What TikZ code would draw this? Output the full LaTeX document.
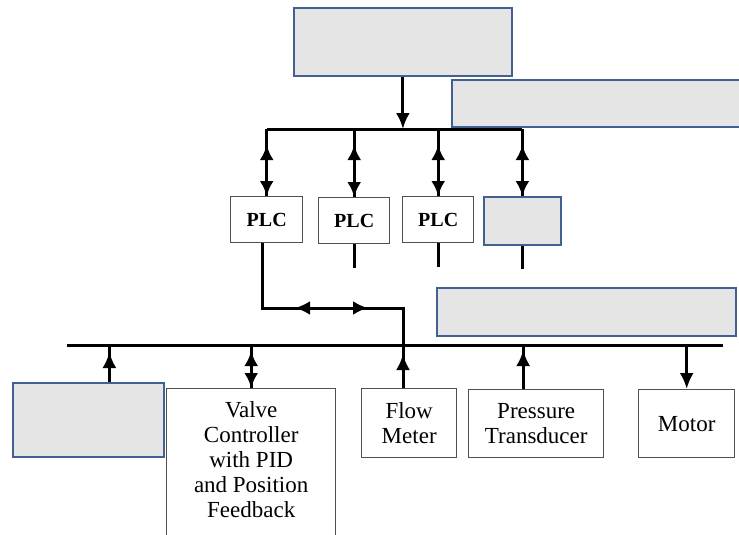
\documentclass[tikz,border=0pt]{standalone}
\usepackage{fontspec}
\setmainfont{Liberation Serif}
\usetikzlibrary{arrows.meta}

\definecolor{blankfill}{RGB}{229,229,229}
\definecolor{blankedge}{RGB}{66,96,148}
\definecolor{unitedge}{RGB}{80,80,80}

\tikzset{
  blank/.style={draw=blankedge, line width=1.8pt, fill=blankfill, inner sep=0pt, anchor=north west},
  unit/.style={draw=unitedge, line width=1.4pt, fill=white, inner sep=0pt, anchor=north west,
    align=center, font=\fontsize{23}{25}\selectfont},
  plc/.style={unit, font=\bfseries\fontsize{20}{22}\selectfont},
  wire/.style={line width=3pt},
  onetip/.style={wire, -{Latex[length=16pt,width=14pt]}},
  twotip/.style={wire, {Latex[length=15pt,width=14pt]}-{Latex[length=15pt,width=14pt]}},
}

\begin{document}
\begin{tikzpicture}[x=1pt, y=-1pt]
  \useasboundingbox (0,0) rectangle (739,535);

  % upper level
  \node[blank, minimum width=218pt, minimum height=68pt] (sup) at (293,7) {};
  \node[blank, minimum width=300pt, minimum height=47pt] (net) at (451,79) {};
  \node[plc, minimum width=72pt, minimum height=46pt] (p1) at (230,196) {PLC};
  \node[plc, minimum width=71pt, minimum height=46pt] (p2) at (318,197) {PLC};
  \node[plc, minimum width=71pt, minimum height=46pt] (p3) at (402,196) {PLC};
  \node[blank, minimum width=77pt, minimum height=48pt] (gw) at (483,196) {};
  \coordinate (tl) at (266,129);

  % field level
  \node[blank, minimum width=299pt, minimum height=48pt] (field) at (436,287) {};
  \node[blank, minimum width=151pt, minimum height=74pt] (dev) at (12,382) {};
  \node[unit, minimum width=169pt, minimum height=160pt] (valve) at (166,388)
    {Valve\\Controller\\with PID\\and Position\\Feedback\\[-7pt]\mbox{}};
  \node[unit, minimum width=95pt, minimum height=69pt] (flow) at (361,388) {Flow\\Meter};
  \node[unit, minimum width=135pt, minimum height=68pt] (press) at (468,389) {Pressure\\Transducer};
  \node[unit, minimum width=96pt, minimum height=68pt] (motor) at (638,389) {Motor};
  \coordinate (bl) at (67,345);
  \coordinate (br) at (723,345);
  \coordinate (knee) at (403,308);
  \coordinate (jl) at (295,308);
  \coordinate (jr) at (368,308);

  % control bus
  \draw[wire] (p1.north |- tl) -- (gw.north |- tl);
  \draw[onetip] (sup.south) -- (sup.south |- tl);
  \draw[wire] (p1.north) -- (p1.north |- tl);
  \draw[twotip, shorten <=16pt] (p1.north |- tl) -- (p1.north);
  \draw[wire] (p2.north) -- (p2.north |- tl);
  \draw[twotip, shorten <=16pt] (p2.north |- tl) -- (p2.north);
  \draw[wire] (p3.north) -- (p3.north |- tl);
  \draw[twotip, shorten <=16pt] (p3.north |- tl) -- (p3.north);
  \draw[wire] (gw.north) -- (gw.north |- tl);
  \draw[twotip, shorten <=16pt] (gw.north |- tl) -- (gw.north);
  \draw[wire] (p2.south) -- ++(0,24);
  \draw[wire] (p3.south) -- ++(0,24);
  \draw[wire] (gw.south) -- ++(0,23);

  % link down to the field bus
  \draw[wire] ([xshift=-4pt]p1.south) -- ([xshift=-4pt]p1.south |- knee) -- (knee) -- (knee |- bl);
  \draw[twotip] (jr) -- (jl);

  % field bus
  \draw[wire] (bl) -- (br);
  \draw[wire] ([xshift=21pt]dev.north) -- ([xshift=21pt]dev.north |- bl);
  \draw[onetip, shorten >=7pt] ([xshift=21pt]dev.north) -- ([xshift=21pt]dev.north |- bl);
  \draw[wire] (valve.north) -- (valve.north |- bl);
  \draw[twotip, shorten <=6pt] (valve.north |- bl) -- (valve.north);
  \draw[wire] (knee |- flow.north) -- (knee |- bl);
  \draw[onetip, shorten >=9pt] (knee |- flow.north) -- (knee |- bl);
  \draw[wire] ([xshift=-13pt]press.north) -- ([xshift=-13pt]press.north |- bl);
  \draw[onetip, shorten >=5pt] ([xshift=-13pt]press.north) -- ([xshift=-13pt]press.north |- bl);
  \draw[onetip] (motor.north |- bl) -- (motor.north);
\end{tikzpicture}
\end{document}
